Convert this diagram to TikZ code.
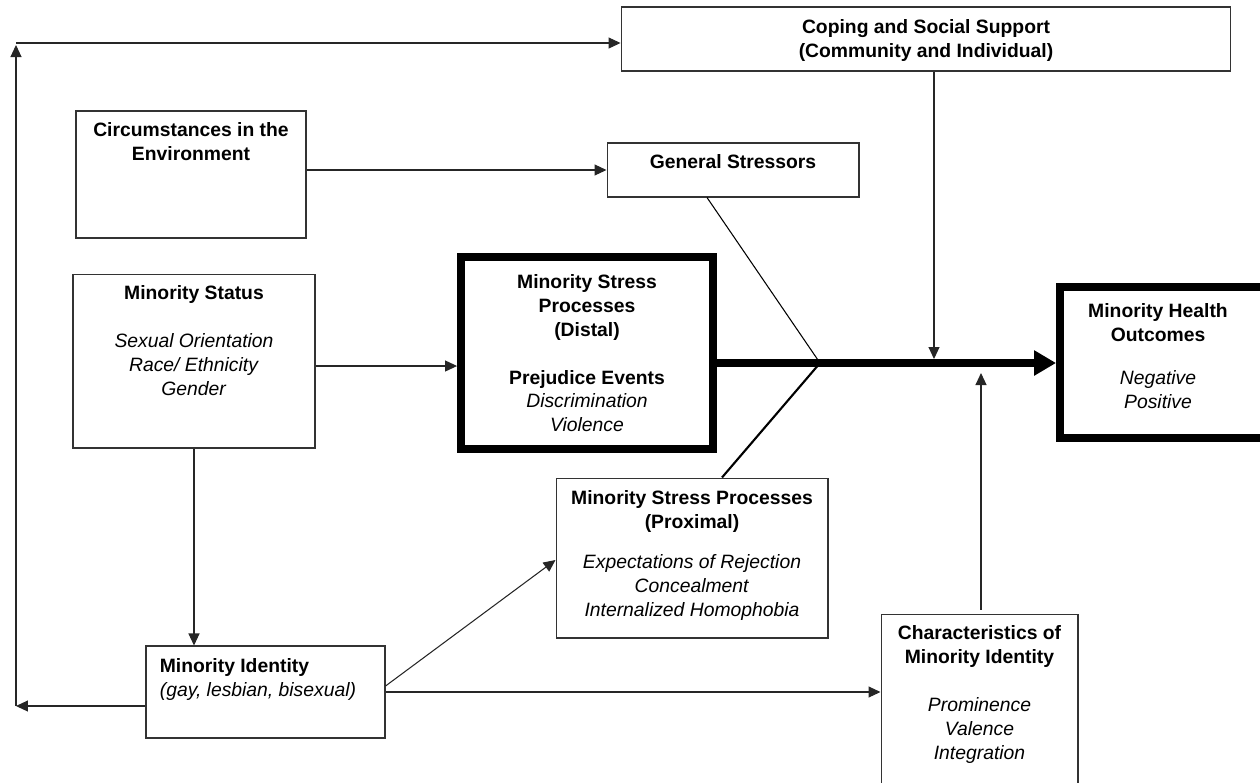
\documentclass[tikz,border=0pt]{standalone}
\usepackage{fontspec}
\setmainfont{Liberation Sans}
\usetikzlibrary{arrows.meta}

\begin{document}
\begin{tikzpicture}[
            x=0.02cm, y=-0.02cm,
            box/.style={draw=black!80, line width=0.6pt, fill=white, inner sep=0pt},
            bigbox/.style={draw=black, line width=4.5pt, fill=white, inner sep=0pt},
            txt/.style={font=\fontsize{11pt}{13.6pt}\selectfont, align=center, anchor=north, inner sep=0pt},
            arr/.style={-{Triangle[length=0.24cm, width=0.22cm]}, line width=0.6pt, black!85},
            mainarr/.style={-{Triangle[length=0.44cm, width=0.48cm]}, line width=4.5pt}
        ]
            \useasboundingbox (0,0) rectangle (1260,782);

            % BOXES
            \node[box, minimum width=12.2cm, minimum height=1.28cm] (cope) at (926,39) {};
            \node[box, minimum width=4.6cm, minimum height=2.54cm] (circ) at (191,174.5) {};
            \node[box, minimum width=5.04cm, minimum height=1.08cm] (gen) at (733,170) {};
            \node[box, minimum width=4.84cm, minimum height=3.48cm] (status) at (194,361) {};
            \node[bigbox, minimum width=5.04cm, minimum height=3.84cm] (distal) at (587,353) {};
            \node[bigbox, minimum width=4.08cm, minimum height=3.02cm] (health) at (1162,362.5) {};
            \node[box, minimum width=5.44cm, minimum height=3.2cm] (prox) at (692,558) {};
            \node[box, minimum width=4.78cm, minimum height=1.84cm] (ident) at (265.5,692) {};
            \node[box, minimum width=3.94cm, minimum height=3.6cm] (chars) at (979.5,704) {};

            % TEXTS
            \node[txt] (cope-t) at ([yshift=-0.26cm]cope.north)
                {\textbf{Coping and Social Support}\\\textbf{(Community and Individual)}};
            \node[txt] (circ-t) at ([yshift=-0.24cm]circ.north)
                {\textbf{Circumstances in the}\\\textbf{Environment}};
            \node[txt] (gen-t) at ([yshift=-0.24cm]gen.north) {\textbf{General Stressors}};
            \node[txt] (status-t) at ([yshift=-0.24cm]status.north)
                {\textbf{Minority Status}\\[13.6pt]\textit{Sexual Orientation}\\\textit{Race/ Ethnicity}\\\textit{Gender}};
            \node[txt] (distal-t) at ([yshift=-0.42cm]distal.north)
                {\textbf{Minority Stress}\\\textbf{Processes}\\\textbf{(Distal)}\\[13.6pt]\textbf{Prejudice Events}\\\textit{Discrimination}\\\textit{Violence}};
            \node[txt] (health-t) at ([xshift=-0.08cm, yshift=-0.4cm]health.north)
                {\textbf{Minority Health}\\\textbf{Outcomes}\\[11pt]\textit{Negative}\\\textit{Positive}};
            \node[txt] (prox-t) at ([yshift=-0.26cm]prox.north)
                {\textbf{Minority Stress Processes}\\\textbf{(Proximal)}\\[9pt]\textit{Expectations of Rejection}\\\textit{Concealment}\\\textit{Internalized Homophobia}};
            \node[txt, anchor=north west, align=left] (ident-t) at ([xshift=0.28cm, yshift=-0.26cm]ident.north west)
                {\textbf{Minority Identity}\\\textit{(gay, lesbian, bisexual)}};
            \node[txt] (chars-t) at ([yshift=-0.24cm]chars.north)
                {\textbf{Characteristics of}\\\textbf{Minority Identity}\\[13.6pt]\textit{Prominence}\\\textit{Valence}\\\textit{Integration}};

            % JUNCTIONS
            \coordinate (J) at (820,363);
            \coordinate (cj) at (934,359);
            \coordinate (kj) at (981,373);
            \coordinate (lb) at (16,706);
            \coordinate (lt) at (16,43);

            % MAIN PATH
            \draw[mainarr] (distal.east |- J) -- (health.west |- J);
            \draw[line width=0.6pt] ([xshift=-0.52cm]gen.south) -- (J);
            \draw[line width=1.2pt] ([xshift=0.6cm]prox.north) -- (J);
            \draw[arr] (cope.south -| cj) -- (cj);
            \draw[arr, shorten <=0.08cm] (chars.north -| kj) -- (kj);

            % OTHER ARROWS
            \draw[arr] (circ.east |- gen.west) -- (gen.west);
            \draw[arr] ([yshift=-0.1cm]status.east) -- ([yshift=-0.1cm]status.east -| distal.west);
            \draw[arr] (status.south) -- (status.south |- ident.north);
            \draw[arr] ([yshift=0.12cm]ident.east) -- ([yshift=-0.04cm]prox.west);
            \draw[arr] (ident.east) -- (ident.east -| chars.west);

            % LOOP ON THE LEFT
            \draw[arr] (ident.west |- lb) -- (lb);
            \draw[arr] (lb) -- ([yshift=-0.04cm]lt);
            \draw[arr] (lt) -- (lt -| cope.west);
        \end{tikzpicture}
\end{document}
